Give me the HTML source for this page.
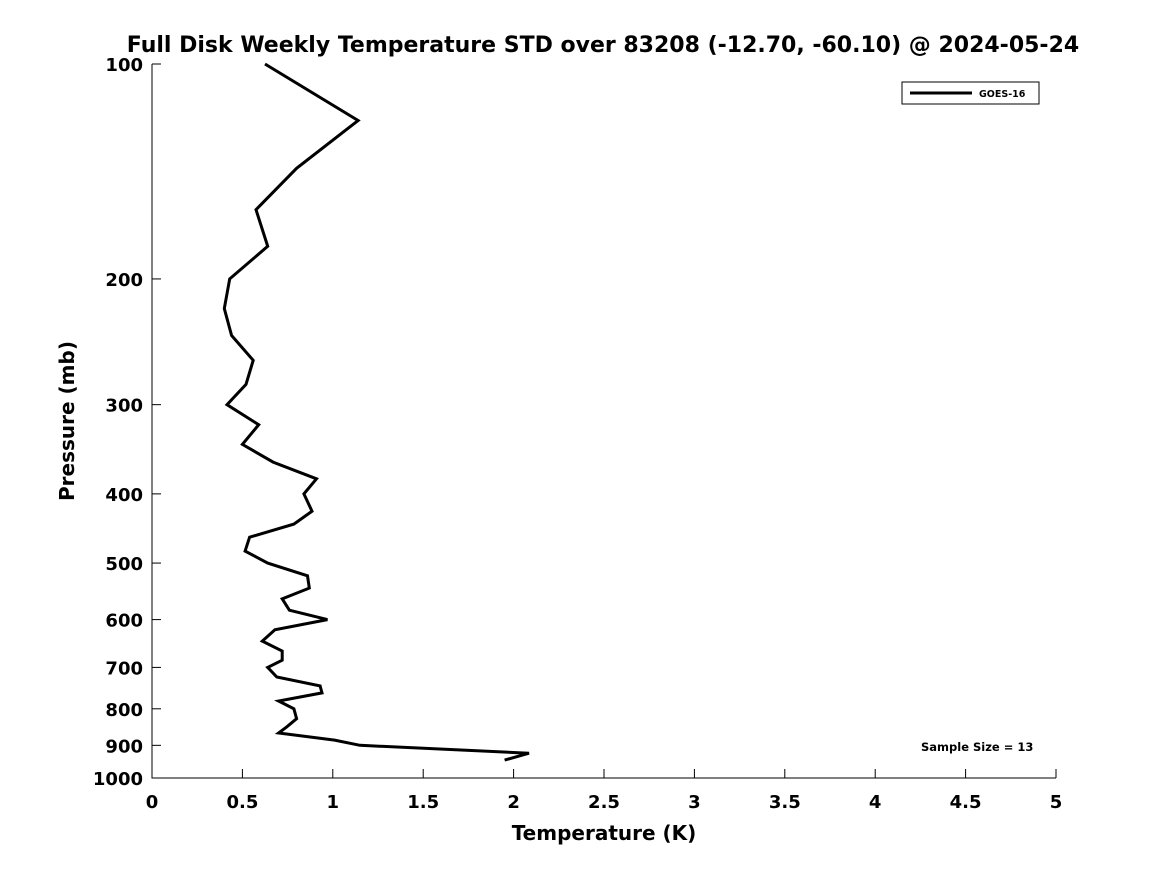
<!DOCTYPE html>
<html><head><meta charset="utf-8"><style>
body{margin:0;background:#fff;}
svg{display:block;font-family:"DejaVu Sans","Liberation Sans",sans-serif;font-weight:bold;}
</style></head><body>
<svg id="chart" width="1167" height="875" viewBox="0 0 1167 875">
<rect width="1167" height="875" fill="#fff"/>
<text x="603" y="52" text-anchor="middle" font-size="22" fill="#000">Full Disk Weekly Temperature STD over 83208 (-12.70, -60.10) @ 2024-05-24</text>
<g id="axes"></g>
<text x="604" y="840" text-anchor="middle" font-size="20">Temperature (K)</text>
<text transform="translate(74,421) rotate(-90)" text-anchor="middle" font-size="20">Pressure (mb)</text>
<g>
<rect x="902" y="82" width="137" height="22" fill="#fff" stroke="#000" stroke-width="1"/>
<line x1="910" y1="93" x2="972" y2="93" stroke="#000" stroke-width="3"/>
<text x="979" y="97" font-size="9.5">GOES-16</text>
</g>
<text x="921" y="751" font-size="11.5">Sample Size = 13</text>
</svg>
<script>
const xTicks=[0,0.5,1,1.5,2,2.5,3,3.5,4,4.5,5];
const yTicks=[100,200,300,400,500,600,700,800,900,1000];
const temps=[0.625,1.14,0.80,0.575,0.64,0.43,0.40,0.44,0.56,0.52,0.415,0.59,0.50,0.67,0.91,0.84,0.885,0.785,0.54,0.515,0.64,0.86,0.87,0.72,0.76,0.97,0.68,0.61,0.72,0.72,0.64,0.69,0.93,0.94,0.70,0.785,0.80,0.745,0.70,1.01,1.15,2.085,1.95];
const pressures=[100,120,140,160,180,200,220,240,260,281,300,320,341,361,381,400,423,441,460,481,500,521,542,561,582,600,620,643,664,684,700,722,743,760,780,800,826,848,865,885,900,923,944];
const X0=152,X1=1056,Y0=64,Y1=778;
const xs=v=>X0+(v-0)/(5-0)*(X1-X0);
const ys=p=>Y0+(Math.log10(p)-2)*(Y1-Y0);
const NS="http://www.w3.org/2000/svg";
const g=document.getElementById('axes');
function mk(t,a){const e=document.createElementNS(NS,t);for(const k in a)e.setAttribute(k,a[k]);g.appendChild(e);return e;}
let ax=mk('path',{d:`M${X0},${Y0}V${Y1}H${X1}`,fill:'none',stroke:'#000','stroke-width':1});


xTicks.forEach(v=>{
 const x=xs(v);
 let t=mk('line',{x1:x,y1:Y1,x2:x,y2:Y1-9,stroke:'#000'});
 
 
 let l=mk('text',{x:x,y:808,'text-anchor':'middle','font-size':18});
 
 
 l.textContent=String(v);
});
yTicks.forEach(p=>{
 const y=ys(p);
 let t=mk('line',{x1:X0,y1:y,x2:X0+9,y2:y,stroke:'#000'});
 
 
 let l=mk('text',{x:143,y:y+7,'text-anchor':'end','font-size':18});
 
 
 l.textContent=String(p);
});
const pts=temps.map((t,i)=>xs(t).toFixed(1)+','+ys(pressures[i]).toFixed(1)).join(' ');
let line=mk('polyline',{points:pts,fill:'none',stroke:'#000','stroke-width':3,'stroke-linejoin':'miter'});


</script>
</body></html>
